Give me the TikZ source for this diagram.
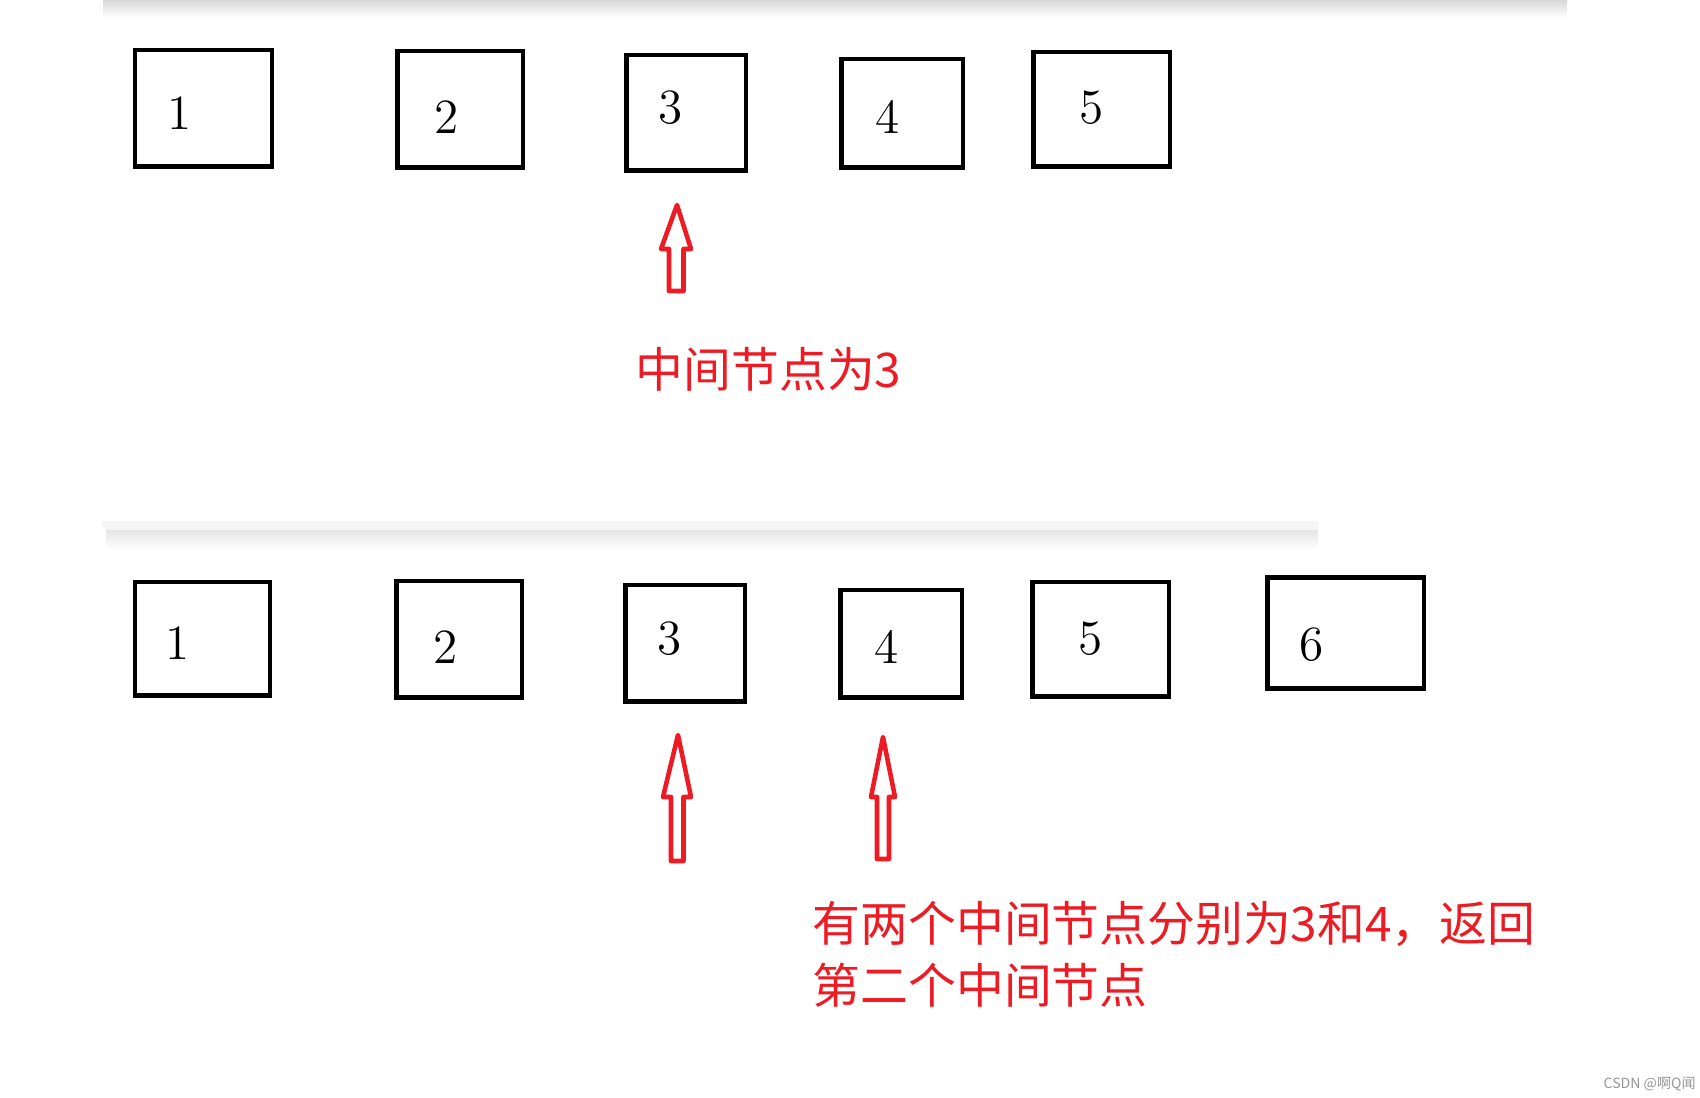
\documentclass[tikz,border=0pt]{standalone}
\usepackage{fontspec}
\usepackage{tikz}
\usetikzlibrary{positioning}
\newfontfamily\cjk{Noto Sans CJK SC}
\definecolor{ptRed}{RGB}{237,28,36}
\definecolor{wmGray}{RGB}{150,150,150}

\begin{document}
\begin{tikzpicture}[
    x=0.01cm, y=-0.01cm,
    cell/.style={rectangle, draw=black, line width=1.3pt, inner sep=0pt},
    num/.style={inner sep=0pt, font=\fontsize{14}{17}\selectfont},
    ptr/.style={draw=ptRed, line width=1.3pt, line join=round, fill=white},
    note/.style={inner sep=0pt, anchor=base west, text=ptRed, align=left,
                 font=\cjk\fontsize{13.6}{17.7}\selectfont}
]
  \useasboundingbox (0,0) rectangle (1700,1098);

  % card edges
  \shade[top color=black!15, bottom color=white] (103,0) rectangle (1567,18);
  \shade[top color=black!10, bottom color=white] (106,530) rectangle (1318,550);
  \fill[black!4] (1318,521) -- (102,521) -- (102,524) to[out=-90,in=180] (110,530) -- (1318,530) -- cycle;

  % odd list
  \node[cell, minimum width=1.365cm, minimum height=1.165cm] (a1) at (203.5,108.5) {};
  \node[cell, minimum width=1.255cm, minimum height=1.165cm] (a2) at (460,109.5) {};
  \node[cell, minimum width=1.195cm, minimum height=1.155cm] (a3) at (686,113) {};
  \node[cell, minimum width=1.215cm, minimum height=1.085cm] (a4) at (902,113.5) {};
  \node[cell, minimum width=1.365cm, minimum height=1.145cm] (a5) at (1101.5,109.5) {};
  \node[num] (na1) at (180,113) {1};
  \node[num] (na2) at (447,117) {2};
  \node[num] (na3) at (671,108) {3};
  \node[num] (na4) at (888,117) {4};
  \node[num] (na5) at (1092,108) {5};

  \draw[ptr] (677,205) -- (691,249) -- (683.5,249) -- (683.5,291) -- (669,291) -- (669,249) -- (661,249) -- cycle;
  \node[note] (mid1) at (635,388) {中间节点为3};

  % even list
  \node[cell, minimum width=1.345cm, minimum height=1.135cm] (b1) at (202.5,639) {};
  \node[cell, minimum width=1.255cm, minimum height=1.165cm] (b2) at (459,639.5) {};
  \node[cell, minimum width=1.195cm, minimum height=1.165cm] (b3) at (685,643.5) {};
  \node[cell, minimum width=1.215cm, minimum height=1.075cm] (b4) at (901,644) {};
  \node[cell, minimum width=1.365cm, minimum height=1.145cm] (b5) at (1100.5,639.5) {};
  \node[cell, minimum width=1.565cm, minimum height=1.105cm] (b6) at (1345.5,633) {};
  \node[num] (nb1) at (178,643) {1};
  \node[num] (nb2) at (446,647) {2};
  \node[num] (nb3) at (670,639) {3};
  \node[num] (nb4) at (887,647) {4};
  \node[num] (nb5) at (1091,639) {5};
  \node[num] (nb6) at (1312,645) {6};

  \draw[ptr] (678,735) -- (691,797) -- (683.5,797) -- (683.5,861) -- (671,861) -- (671,797) -- (663,797) -- cycle;
  \draw[ptr] (883,737) -- (895,797) -- (889,797) -- (889,859) -- (877,859) -- (877,797) -- (871,797) -- cycle;
  \node[note] (mid2) at (812,1004) {有两个中间节点分别为3和4，返回\\第二个中间节点};

  \node[inner sep=0pt, anchor=base west, text=wmGray, font=\cjk\fontsize{4}{5}\selectfont] (wm) at (1603,1088) {CSDN @啊Q闻};
\end{tikzpicture}
\end{document}
